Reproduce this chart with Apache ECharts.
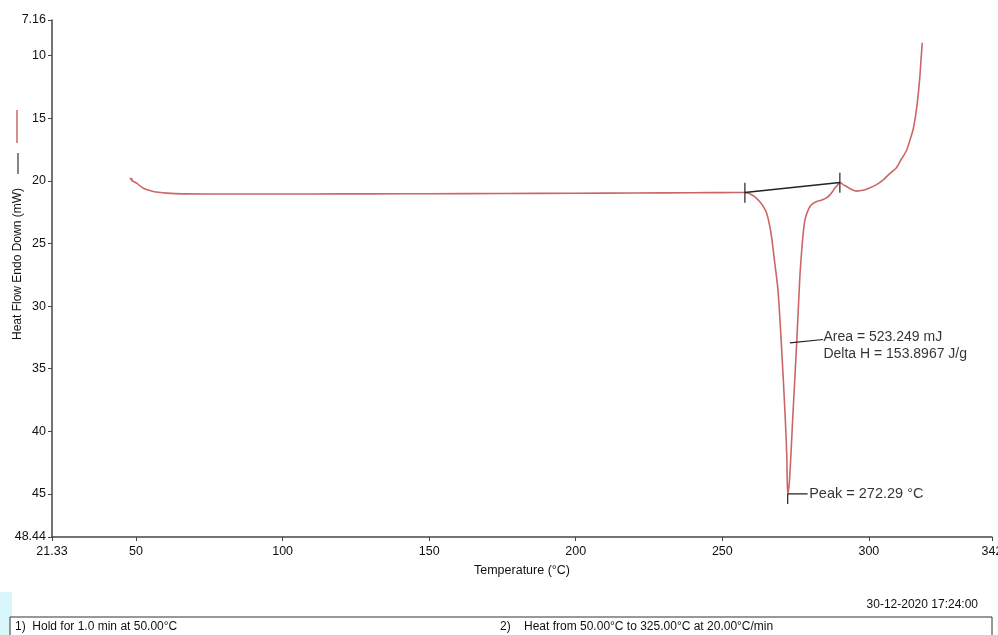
<!DOCTYPE html>
<html>
<head>
<meta charset="utf-8">
<script src="https://cdn.jsdelivr.net/npm/echarts@6/dist/echarts.min.js"></script>
<style>
html,body{margin:0;padding:0;background:#fff;}
#chart{width:998px;height:635px;}
</style>
</head>
<body>
<div id="chart"></div>
<script>
// ---- data ----
var temperature = [48.9, 47.95, 48.6, 50.2, 52.5, 55.9, 60.5, 66, 75, 90, 110, 130, 150, 175, 200, 220, 240, 250, 257.7,
  259.4, 261.2, 262.8, 264.1, 265.1, 266.0, 266.8, 267.9, 269.0, 270.2, 271.4, 272.0, 272.3,
  272.9, 274.1, 275.3, 276.4, 277.0, 277.6, 278.2, 279.0, 279.9, 281.0, 282.2, 283.4, 284.4, 285.6, 286.7, 287.6, 288.4, 289.3, 290.1,
  291.2, 292.4, 294.0, 295.8, 298.0, 300.0, 302.6, 305.0, 307.2, 309.4, 311.0, 312.8, 314.2, 315.1, 316.0, 316.5, 317.0, 317.4, 317.8, 318.2];
var heatFlow = [19.9, 19.79, 19.98, 20.19, 20.59, 20.85, 20.98, 21.04, 21.05, 21.05, 21.05, 21.04, 21.03, 21.01, 20.99, 20.97, 20.95, 20.94, 20.93,
  21.04, 21.3, 21.67, 22.1, 22.57, 23.4, 24.47, 26.58, 28.74, 33.28, 38.6, 42.0, 45.0,
  43.96, 38.6, 33.28, 27.9, 25.8, 24.2, 23.1, 22.5, 22.05, 21.8, 21.65, 21.57, 21.5, 21.35, 21.12, 20.85, 20.58, 20.33, 20.13,
  20.3, 20.45, 20.68, 20.82, 20.76, 20.6, 20.3, 19.9, 19.4, 18.95, 18.3, 17.6, 16.6, 15.9, 14.7, 13.8, 12.7, 11.65, 10.3, 8.98];

var xTickValues = [21.33, 50, 100, 150, 200, 250, 300, 342];
var yTickValues = [7.16, 10, 15, 20, 25, 30, 35, 40, 45, 48.44];

var baselineLine = [[257.7, 20.93], [290.1, 20.13]];
var onsetMarker = [[257.7, 20.16], [257.7, 21.76]];
var endMarker = [[290.1, 19.36], [290.1, 20.95]];
var peakTick = [[272.3, 45.0], [272.3, 45.8]];
var peakLeader = [[272.3, 45.0], [279.1, 45.0]];
var areaLeader = [[273.05, 32.94], [284.4, 32.67]];
var peakLabelPos = [279.3, 45.0];
var areaLabelPos = [284.5, 33.15];
var peakText = 'Peak = 272.29 °C';
var areaText = 'Area = 523.249 mJ\nDelta H = 153.8967 J/g';
var yAxisTitle = 'Heat Flow Endo Down (mW)';
var xAxisTitle = 'Temperature (°C)';
var dateText = '30-12-2020 17:24:00';
var step1Text = '1)  Hold for 1.0 min at 50.00°C';
var step2Text = '2)    Heat from 50.00°C to 325.00°C at 20.00°C/min';

// ---- chart ----
var FONT = 'Liberation Sans, Arial, sans-serif';
var curve = temperature.map(function (t, i) { return [t, heatFlow[i]]; });
function seg(data, color, w) {
  return { type: 'line', data: data, symbol: 'none', silent: true, animation: false,
    lineStyle: { color: color, width: w }, z: 3 };
}
var chart = echarts.init(document.getElementById('chart'), null, { renderer: 'canvas' });
chart.setOption({
  animation: false,
  backgroundColor: '#ffffff',
  grid: { left: 52, right: 6, top: 20, bottom: 98, containLabel: false, outerBoundsMode: 'none' },
  xAxis: {
    type: 'value', min: 21.33, max: 342,
    name: xAxisTitle, nameLocation: 'middle', nameGap: 27,
    nameTextStyle: { fontFamily: FONT, fontSize: 12.5, color: '#111' },
    axisLine: { onZero: false, lineStyle: { color: '#444', width: 1.5 } },
    axisTick: { customValues: xTickValues, length: 4, lineStyle: { color: '#444' } },
    axisLabel: { customValues: xTickValues, fontFamily: FONT, fontSize: 12.5, color: '#111', margin: 8,
      hideOverlap: false, formatter: function (v) { return String(v); } },
    splitLine: { show: false }
  },
  yAxis: {
    type: 'value', min: 7.16, max: 48.44, inverse: true,
    axisLine: { show: true, onZero: false, lineStyle: { color: '#444', width: 1.5 } },
    axisTick: { show: true, customValues: yTickValues, length: 4, lineStyle: { color: '#444' } },
    axisLabel: { customValues: yTickValues, fontFamily: FONT, fontSize: 12.5, color: '#111', margin: 6,
      hideOverlap: false, formatter: function (v) { return String(v); } },
    splitLine: { show: false }
  },
  series: [
    { type: 'line', data: curve, symbol: 'none', smooth: 0.3, animation: false,
      lineStyle: { color: '#cc6666', width: 1.6 }, z: 2 },
    seg(baselineLine, '#222', 1.5),
    seg(onsetMarker, '#222', 1.2),
    seg(endMarker, '#222', 1.2),
    seg(peakTick, '#222', 1.2),
    seg(peakLeader, '#222', 1.2),
    seg(areaLeader, '#222', 1.2),
    { type: 'scatter', symbolSize: 0, silent: true, animation: false,
      data: [peakLabelPos],
      label: { show: true, position: 'right', distance: 1, formatter: peakText,
        fontFamily: FONT, fontSize: 14.5, color: '#000' } },
    { type: 'scatter', symbolSize: 0, silent: true, animation: false,
      data: [areaLabelPos],
      label: { show: true, position: 'right', distance: 0, formatter: areaText,
        fontFamily: FONT, fontSize: 14, lineHeight: 17, color: '#000' } }
  ],
  graphic: [
    { type: 'text', x: 18, y: 264, rotation: Math.PI / 2,
      style: { text: yAxisTitle, font: '12px ' + FONT, fill: '#111', align: 'center', verticalAlign: 'middle' } },
    { type: 'line', shape: { x1: 17, y1: 110, x2: 17, y2: 143 }, style: { stroke: '#cc6666', lineWidth: 1.5 } },
    { type: 'line', shape: { x1: 18, y1: 153, x2: 18, y2: 174 }, style: { stroke: '#333', lineWidth: 1.2 } },
    { type: 'text', x: 978, y: 605,
      style: { text: dateText, font: '12px ' + FONT, fill: '#111', align: 'right', verticalAlign: 'middle' } },
    { type: 'rect', shape: { x: 0, y: 592, width: 12, height: 43 }, style: { fill: '#d9f7fb' } },
    { type: 'rect', shape: { x: 10, y: 617, width: 982, height: 30 }, style: { fill: '#fff', stroke: '#333', lineWidth: 1 } },
    { type: 'text', x: 15, y: 627,
      style: { text: step1Text, font: '12px ' + FONT, fill: '#111', align: 'left', verticalAlign: 'middle' } },
    { type: 'text', x: 500, y: 627,
      style: { text: step2Text, font: '12px ' + FONT, fill: '#111', align: 'left', verticalAlign: 'middle' } }
  ]
});
</script>
</body>
</html>
